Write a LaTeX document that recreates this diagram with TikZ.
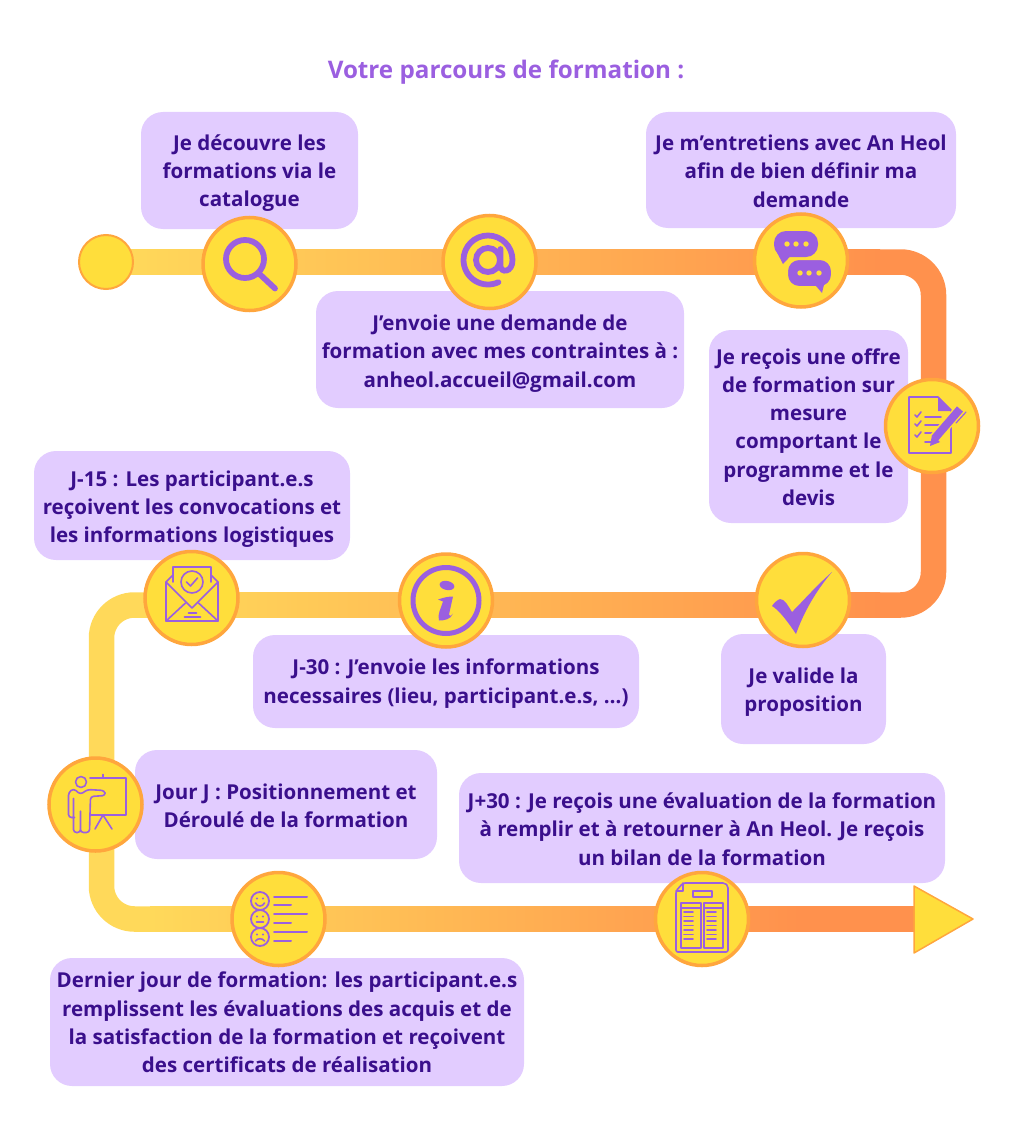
\documentclass[tikz,border=0pt]{standalone}
\usepackage{fontspec}
\setmainfont{Open Sans}
\definecolor{trackyellow}{HTML}{FFD95A}
\definecolor{trackorange}{HTML}{FF914D}
\definecolor{stopfill}{HTML}{FFDE3B}
\definecolor{stoprim}{HTML}{FFA63D}
\definecolor{boxfill}{HTML}{E2CCFF}
\definecolor{boxtext}{HTML}{3A0F8C}
\definecolor{iconviolet}{HTML}{9B5FE0}
\tikzset{
  trackline/.style={line width=25.5pt,rounded corners=33pt},
  stopdot/.style={circle,fill=stopfill,draw=stoprim,line width=3.5pt,minimum size=93pt,inner sep=0pt},
  infobox/.style={fill=boxfill,rounded corners=22pt},
  infotext/.style={inner sep=0pt,align=center,text=boxtext,font=\bfseries\fontsize{20.55}{28.3}\selectfont},
  iconstroke/.style={draw=iconviolet,line width=1.6pt,line join=round,line cap=round},
  iconbold/.style={draw=iconviolet,line width=5.8pt,line cap=round},
}
\begin{document}
\begin{tikzpicture}[x=1pt,y=-1pt]
  \useasboundingbox (0,0) rectangle (1024,1121);
  % ruban
  \coordinate (topleft) at (120,262);
  \coordinate (topright) at (880,262);
  \coordinate (eastupper) at (933.5,262);
  \coordinate (eastlower) at (933.5,605);
  \coordinate (midright) at (880,605);
  \coordinate (midleft) at (150,605);
  \coordinate (westupper) at (101.5,605);
  \coordinate (westlower) at (101.5,919);
  \coordinate (lowleft) at (150,919);
  \coordinate (lowshade) at (800,919);
  \coordinate (lowright) at (916,919);
  \draw [trackline,trackorange] (topright) -- (eastupper) -- (eastlower) -- (midright);
  \draw [trackline,trackyellow] (midleft) -- (westupper) -- (westlower) -- (lowleft);
  \shade [left color=trackyellow,right color=trackorange] ([yshift=-12.75pt]topleft) rectangle ([yshift=12.75pt]topright);
  \shade [left color=trackyellow,right color=trackorange] ([yshift=-12.75pt]midleft) rectangle ([yshift=12.75pt]midright);
  \shade [left color=trackyellow,right color=trackorange] ([yshift=-12.75pt]lowleft) rectangle ([yshift=12.75pt]lowshade);
  \fill [trackorange] ([yshift=-12.75pt]lowshade) rectangle ([yshift=12.75pt]lowright);
  \filldraw [fill=stopfill,draw=stoprim,line width=1.5pt,line join=round] (914,886) -- (973,919) -- (914,953) -- cycle;

  \node [font=\bfseries\fontsize{24.2}{28}\selectfont,text=iconviolet] (title) at (506,72.5) {Votre parcours de formation :};

  \fill [infobox] (141,112) rectangle (358,229);
  \fill [infobox] (646,112) rectangle (956,228);
  \fill [infobox] (316,291) rectangle (684,408);
  \fill [infobox] (709,330) rectangle (908,523);
  \fill [infobox] (34,451) rectangle (350,560);
  \fill [infobox] (253,635) rectangle (639,728);
  \fill [infobox] (721,634) rectangle (886,744);
  \fill [infobox] (135,750) rectangle (437,859);
  \fill [infobox] (459,773) rectangle (945,883);
  \fill [infobox] (50,958) rectangle (524,1086);

  \node [infotext] (catalogue) at (249.5,173) {Je découvre les\\formations via le\\catalogue};
  \node [infotext] (entretien) at (801,171) {Je m’entretiens avec An Heol\\afin de bien définir ma\\demande};
  \node [infotext] (demande) at (500,353.5) {J’envoie une demande de\\formation avec mes contraintes à :\\anheol.accueil@gmail.com};
  \node [infotext] (offre) at (808.5,427) {Je reçois une offre\\de formation sur\\mesure\\comportant le\\programme et le\\devis};
  \node [infotext] (convoc) at (192,509) {J-15 : Les participant.e.s\\reçoivent les convocations et\\les informations logistiques};
  \node [infotext] (infos) at (446,683.5) {J-30 : J’envoie les informations\\necessaires (lieu, participant.e.s, …)};
  \node [infotext] (valide) at (803.5,692.5) {Je valide la\\proposition};
  \node [infotext] (jourj) at (286,805.5) {Jour J : Positionnement et\\Déroulé de la formation};
  \node [infotext] (bilan) at (702,829) {J+30 : Je reçois une évaluation de la formation\\à remplir et à retourner à An Heol. Je reçois\\un bilan de la formation};
  \node [infotext] (dernier) at (287,1022.5) {Dernier jour de formation: les participant.e.s\\remplissent les évaluations des acquis et de\\la satisfaction de la formation et reçoivent\\des certificats de réalisation};

  \node [stopdot,minimum size=54pt,line width=2pt] (start) at (106,262) {};
  \node [stopdot] (search) at (249.5,264) {};
  \node [stopdot] (mail) at (489.5,262) {};
  \node [stopdot] (chat) at (801,260.5) {};
  \node [stopdot] (quote) at (932,426) {};
  \node [stopdot] (tick) at (803,600) {};
  \node [stopdot] (info) at (446,600.5) {};
  \node [stopdot] (letter) at (191.5,598) {};
  \node [stopdot] (teacher) at (95.5,804.5) {};
  \node [stopdot] (smiley) at (278.5,919) {};
  \node [stopdot] (sheet) at (702,919) {};

  % loupe
  \begin{scope}[shift={(search.center)}]
    \draw [iconbold] (-4.5,-5) circle (19);
    \draw [iconbold] (10,10) -- (25.5,24.5);
  \end{scope}
  % arobase
  \begin{scope}[shift={(mail.center)}]
    \draw [iconbold] (-1.5,-2) circle (12);
    \draw [iconbold] (11,-13) -- (11,4) .. controls (11,11) and (23,11) .. (23,-2) arc [start angle=0,end angle=-295,radius=24.5];
  \end{scope}
  % bulles
  \begin{scope}[shift={(chat.center)}]
    \fill [iconviolet,rounded corners=12pt] (-27,-29.5) rectangle (17,-3.5);
    \fill [iconviolet] (-24,-8) -- (-18,3.5) -- (-9,-6) -- cycle;
    \draw [stopfill,line width=2pt,fill=iconviolet,rounded corners=12pt] (-14,-1.5) rectangle (31,26.5);
    \fill [iconviolet] (12,22) -- (21,32.5) -- (24,20) -- cycle;
    \foreach \dotx in {-14,-5,5} \fill [stopfill] (\dotx,-16.5) circle (2.7);
    \foreach \dotx in {-1,8,18} \fill [stopfill] (\dotx,12.5) circle (2.7);
  \end{scope}
  % devis
  \begin{scope}[shift={(quote.center)}]
    \draw [iconstroke] (-23,-29) -- (6,-29) -- (19,-16) -- (19,27) -- (-23,27) -- cycle;
    \fill [iconviolet] (6,-29) -- (20,-15) -- (6,-15) -- cycle;
    \foreach \liney/\linex in {-9/9,-1/11,7/9,16/6} \draw [iconstroke,line width=1.8pt] (-7,\liney) -- (\linex,\liney);
    \foreach \liney in {-11,-2,9} \draw [iconstroke] (-17,\liney) -- (-15,\liney+2) -- (-11,\liney-3);
    \draw [stopfill,line width=11pt] (1,14) -- (29,-18);
    \fill [iconviolet] (-2,20) -- (0,9) -- (8,16) -- cycle;
    \draw [iconviolet,line width=8pt] (3,12) -- (28,-17);
    \draw [iconstroke,line width=1.2pt] (24,-3) -- (34,-14);
  \end{scope}
  % coche
  \begin{scope}[shift={(tick.center)}]
    \fill [iconviolet] (29,-28) .. controls (13,-14) and (1,0) .. (-11,12) .. controls (-15,6) and (-18,-1) .. (-23,-1) .. controls (-26,0) and (-29,3) .. (-31,6) .. controls (-24,10) and (-15,22) .. (-7,34) .. controls (0,14) and (12,-8) .. (29,-28) -- cycle;
  \end{scope}
  % information
  \begin{scope}[shift={(info.center)}]
    \draw [iconviolet,line width=5pt] (0,0) circle (33);
    \fill [iconviolet,rotate around={-12:(1,-15)}] (1,-15) ellipse (7.5 and 4.5);
    \fill [iconviolet] (-8,-1) .. controls (-2,-3) and (2,-4) .. (7,-4) -- (3,14) .. controls (3,16) and (5,16) .. (7,13) .. controls (5,19) and (-2,20) .. (-7,20) .. controls (-9,14) and (-5,8) .. (-3,1) -- cycle;
  \end{scope}
  % enveloppe
  \begin{scope}[shift={(letter.center)}]
    \draw [iconstroke] (-18.5,-16) -- (-18.5,-31) -- (19.5,-31) -- (19.5,-16);
    \draw [iconstroke] (-25.5,-16) -- (0.5,10) -- (26.5,-16) -- (26.5,23) -- (-25.5,23) -- cycle;
    \draw [iconstroke] (-25.5,-16) -- (-18.5,-23);
    \draw [iconstroke] (26.5,-16) -- (19.5,-23);
    \draw [iconstroke] (-25.5,23) -- (-6,5);
    \draw [iconstroke] (26.5,23) -- (7,5);
    \draw [iconstroke] (0.5,-16) circle (11);
    \draw [iconstroke] (-5,-16) -- (-1,-12) -- (6,-20);
    \draw [iconstroke] (-3,15) -- (5,15);
    \draw [iconstroke] (-7,19) -- (9,19);
  \end{scope}
  % formateur
  \begin{scope}[shift={(teacher.center)}]
    \draw [iconstroke] (-5.5,-26.5) -- (30.5,-26.5) -- (30.5,10.5) -- (-4.5,10.5);
    \draw [iconstroke] (7.5,-30) -- (7.5,-26.5);
    \draw [iconstroke] (7.5,10.5) -- (-0.5,24.5);
    \draw [iconstroke] (7.5,10.5) -- (16.5,24.5);
    \draw [iconstroke] (-14.5,-22.5) circle (5.5);
    \draw [iconstroke,rounded corners=3pt] (-21,13) -- (-27,13) -- (-27,-12) -- (-22,-16) -- (-15,-10) -- (-8,-15) -- (9,-14) -- (10,-9) -- (-5,-8) -- (-6,28) -- (-15,28) -- (-15,5) -- (-15,28) -- (-22,28) -- (-22,-6);
  \end{scope}
  % evaluation
  \begin{scope}[shift={(smiley.center)}]
    \foreach \facey in {-18,0,18} {
      \draw [iconstroke,line width=1.8pt] (-18.5,\facey) circle (9);
      \fill [iconviolet] (-21.5,\facey-2.5) circle (1.2);
      \fill [iconviolet] (-15.5,\facey-2.5) circle (1.2);
    }
    \draw [iconstroke] (-23,-16) .. controls (-21,-12) and (-16,-12) .. (-14,-16);
    \draw [iconstroke] (-22,3) -- (-15,3);
    \draw [iconstroke] (-23,22) .. controls (-21,19) and (-16,19) .. (-14,22);
    \foreach \liney/\linex in {-22/28.5,-14/12.5,-5/28.5,4/12.5,13/28.5,22/12.5}
      \draw [iconstroke,line width=2pt] (-4.5,\liney) -- (\linex,\liney);
  \end{scope}
  % bilan
  \begin{scope}[shift={(sheet.center)}]
    \draw [iconstroke,rounded corners=2pt] (-26,-28) -- (-19,-36) -- (23,-36) -- (26,-33) -- (26,33) -- (-26,33) -- cycle;
    \draw [iconstroke] (-26,-28) -- (-19,-28) -- (-19,-36);
    \draw [iconstroke] (-9,-28) rectangle (10,-22);
    \draw [iconstroke] (-21,-16) rectangle (-1,29);
    \draw [iconstroke] (2,-16) rectangle (21,29);
    \draw [iconstroke] (-21,-11) -- (-1,-11);
    \draw [iconstroke] (2,-11) -- (21,-11);
    \foreach \liney in {-7,-2.5,2,6.5,11,15.5,20} {
      \draw [iconstroke] (-18,\liney) -- (-9,\liney);
      \draw [iconstroke] (5,\liney) -- (14,\liney);
    }
  \end{scope}
\end{tikzpicture}
\end{document}
